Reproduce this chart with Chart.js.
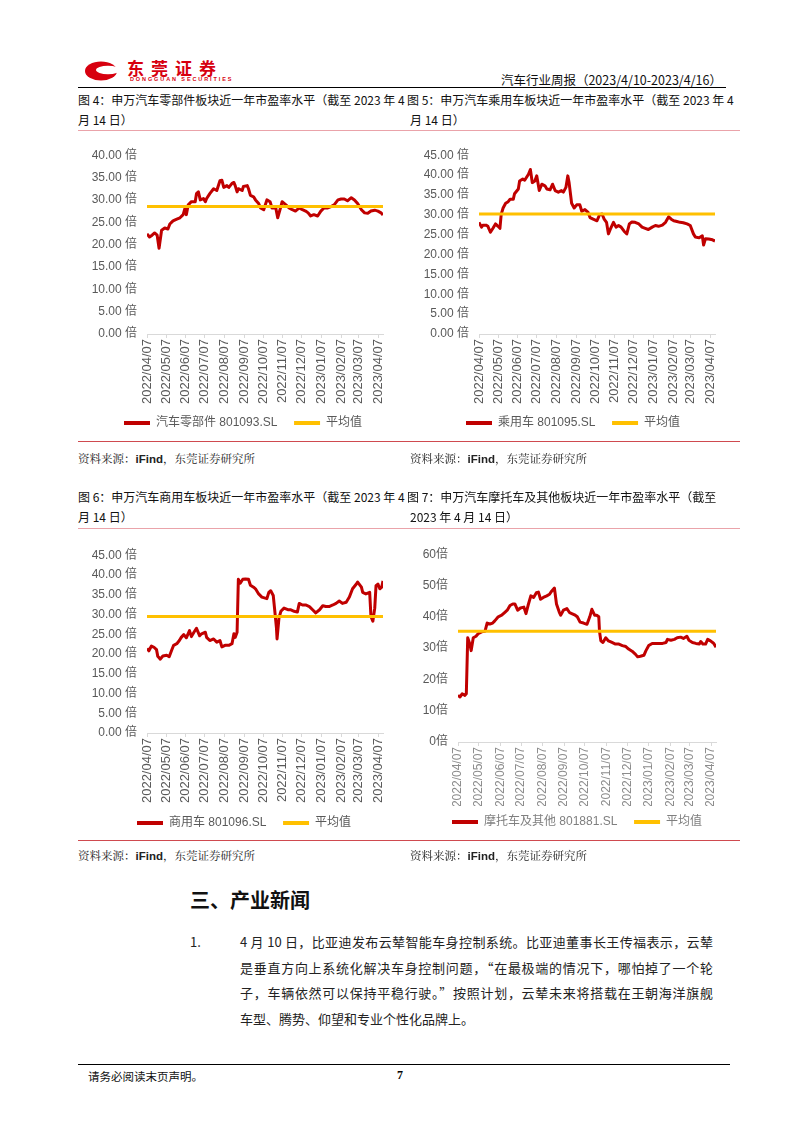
<!DOCTYPE html>
<html><head><meta charset="utf-8">
<script src="https://cdn.jsdelivr.net/npm/chart.js@4.4.0/dist/chart.umd.min.js"></script>
<style>
html,body{margin:0;padding:0;background:#fff}
#page{position:relative;width:802px;height:1133px;overflow:hidden;font-family:'Noto Sans CJK SC',sans-serif;color:#000}
.t{position:absolute;white-space:nowrap}
.ln{position:absolute;height:0}
canvas{position:absolute}
.title{font-size:12px;line-height:16px;color:#111}
.src{font-size:11.5px;line-height:16px;color:#222;font-family:'Noto Serif CJK SC','Noto Sans CJK SC',serif}
.src b{font-family:'Liberation Sans',Arial,sans-serif;font-weight:bold}
.para{font-size:13px;line-height:18px;color:#222;width:473px;font-family:'Noto Sans CJK SC',sans-serif}
.just{text-align:justify;text-align-last:justify}
</style></head>
<body><div id="page">
<!-- header logo -->
<svg class="t" style="left:84px;top:60px" width="36" height="22" viewBox="0 0 36 22">
  <ellipse cx="17" cy="11" rx="16" ry="9.5" fill="#d7000f"/>
  <ellipse cx="24" cy="10" rx="12" ry="4.2" fill="#fff"/>
</svg>
<div class="t" style="left:127px;top:58px;font-size:17px;line-height:20px;font-weight:bold;color:#d7000f;letter-spacing:7px">东莞证券</div>
<div class="t" style="left:130px;top:76px;font-size:5.5px;line-height:6px;font-weight:bold;color:#d7000f;letter-spacing:1.9px;font-family:'Liberation Sans',Arial,sans-serif">DONGGUAN SECURITIES</div>
<div class="t" style="right:80px;top:72px;font-size:12.5px;line-height:16px;color:#111">汽车行业周报（2023/4/10-2023/4/16）</div>
<div class="ln" style="left:78px;top:87px;width:648px;border-top:1.5px solid #000"></div>

<!-- titles row 1 -->
<div class="t title" style="left:78px;top:92px">图 4：申万汽车零部件板块近一年市盈率水平（截至 2023 年 4</div>
<div class="t title" style="left:78px;top:112px">月 14 日）</div>
<div class="t title" style="left:407px;top:92px">图 5：申万汽车乘用车板块近一年市盈率水平（截至 2023 年 4</div>
<div class="t title" style="left:410px;top:112px">月 14 日）</div>
<div class="ln" style="left:78px;top:130px;width:662px;border-top:1px solid #eaa3aa"></div>

<canvas id="c4" width="340" height="301" style="left:75px;top:138px"></canvas>
<canvas id="c5" width="340" height="301" style="left:405px;top:138px"></canvas>

<div class="ln" style="left:78px;top:441px;width:662px;border-top:1px solid #cf4a4f"></div>
<div class="t src" style="left:78px;top:450px">资料来源：<b>iFind</b>，东莞证券研究所</div>
<div class="t src" style="left:410px;top:450px">资料来源：<b>iFind</b>，东莞证券研究所</div>

<!-- titles row 2 -->
<div class="t title" style="left:78px;top:489px">图 6：申万汽车商用车板块近一年市盈率水平（截至 2023 年 4</div>
<div class="t title" style="left:78px;top:509px">月 14 日）</div>
<div class="t title" style="left:407px;top:489px">图 7：申万汽车摩托车及其他板块近一年市盈率水平（截至</div>
<div class="t title" style="left:410px;top:509px">2023 年 4 月 14 日）</div>
<div class="ln" style="left:78px;top:528px;width:662px;border-top:1px solid #eaa3aa"></div>

<canvas id="c6" width="340" height="301" style="left:75px;top:538px"></canvas>
<canvas id="c7" width="340" height="301" style="left:405px;top:537px"></canvas>

<div class="ln" style="left:78px;top:840px;width:662px;border-top:1px solid #cf4a4f"></div>
<div class="t src" style="left:78px;top:847px">资料来源：<b>iFind</b>，东莞证券研究所</div>
<div class="t src" style="left:410px;top:847px">资料来源：<b>iFind</b>，东莞证券研究所</div>

<!-- news -->
<div class="t" style="left:190px;top:887px;font-size:20px;line-height:26px;font-weight:bold;color:#111">三、产业新闻</div>
<div class="t para" style="left:190px;top:933px;width:30px">1.</div>
<div class="t para just" style="left:240px;top:933px">4 月 10 日，比亚迪发布云辇智能车身控制系统。比亚迪董事长王传福表示，云辇</div>
<div class="t para just" style="left:240px;top:959px">是垂直方向上系统化解决车身控制问题，“在最极端的情况下，哪怕掉了一个轮</div>
<div class="t para just" style="left:240px;top:984px">子，车辆依然可以保持平稳行驶。”按照计划，云辇未来将搭载在王朝海洋旗舰</div>
<div class="t para" style="left:240px;top:1010px">车型、腾势、仰望和专业个性化品牌上。</div>

<!-- footer -->
<div class="ln" style="left:78px;top:1064px;width:652px;border-top:1.5px solid #000"></div>
<div class="t" style="left:88px;top:1068px;font-size:11.5px;line-height:16px;color:#111">请务必阅读末页声明。</div>
<div class="t" style="left:397px;top:1067px;font-size:12px;line-height:16px;font-weight:bold;font-family:'Liberation Serif',serif">7</div>
</div>

<script>
// ---------- data ----------
const tickLabels = ['2022/04/07','2022/05/07','2022/06/07','2022/07/07','2022/08/07','2022/09/07','2022/10/07','2022/11/07','2022/12/07','2023/01/07','2023/02/07','2023/03/07','2023/04/07'];
const startDate = '2022/04/07';
const endDate = '2023/04/14';

// 汽车零部件 801093.SL (days since 2022/04/07)
const partsDays = [0,4,8,12,16,19,23,28,33,36,41,47,52,57,60,62,65,70,76,78,81,84,89,92,94,99,105,110,115,118,121,126,129,134,137,139,142,144,150,152,158,160,163,168,171,176,179,184,189,194,197,203,206,211,213,219,224,229,234,240,245,250,254,258,263,269,274,279,285,290,295,301,306,311,316,322,327,332,338,343,348,353,359,364,369,372];
const partsPE = [22.4,21.7,22.1,22.6,22.1,19.2,23.2,23.7,23.5,24.6,25.3,25.7,26.0,26.7,28.2,26.7,28.9,29.6,29.6,31.4,31.8,30.0,30.3,29.6,30.3,31.4,32.5,32.1,34.3,34.4,32.8,33.2,32.8,33.7,33.9,33.2,31.8,32.5,32.1,33.0,33.2,32.5,31.0,30.7,30.0,29.2,28.2,27.8,30.0,29.6,28.2,28.2,26.0,28.5,29.6,28.9,28.2,27.8,27.5,28.2,27.8,27.5,27.1,26.4,26.7,26.4,27.5,28.2,28.2,28.5,28.9,30.0,30.2,30.2,29.8,30.5,30.0,29.2,27.8,27.1,27.0,27.5,27.7,27.5,27.1,26.6];
const partsMean = 28.5;

// 乘用车 801095.SL
const carDays = [0,4,6,11,14,18,22,26,30,33,35,38,42,46,49,54,56,62,64,69,72,78,81,84,88,91,95,99,104,107,112,116,120,125,130,133,137,140,142,146,150,154,159,162,167,172,175,180,186,190,194,197,201,204,207,212,216,220,224,229,233,237,241,246,252,257,262,267,273,278,283,289,294,299,303,307,312,317,322,328,333,338,341,347,352,354,357,362,368,372];
const carPE = [28.1,26.9,27.4,27.4,27.1,25.6,26.6,27.7,27.1,26.6,30.1,31.7,32.9,33.3,33.9,33.9,35.3,36.5,38.5,39.0,38.7,40.2,41.4,38.1,38.5,39.8,36.1,37.7,37.3,36.5,36.3,37.7,36.1,35.7,36.1,35.7,36.9,39.8,38.1,32.9,31.7,32.5,32.5,30.9,31.3,30.6,29.3,28.9,28.5,30.0,30.2,29.0,28.1,25.2,26.4,28.1,26.9,27.3,26.9,25.8,25.2,27.7,28.2,28.1,27.7,26.9,26.6,26.3,26.9,27.3,27.1,27.4,28.1,29.5,28.9,28.5,28.3,28.1,28.0,27.7,27.3,25.2,24.4,24.2,24.7,22.4,24.0,23.9,23.7,23.4];
const carMean = 30.2;

// 商用车 801096.SL
const truckDays = [0,3,7,11,15,17,21,25,31,35,39,42,47,51,54,58,62,67,70,74,78,83,86,92,94,99,105,110,115,118,123,129,134,137,139,142,144,147,151,155,160,163,168,171,176,181,189,192,195,199,201,204,205,208,211,216,222,226,232,237,240,245,250,256,261,266,272,277,282,287,293,298,303,308,314,319,324,330,332,338,340,345,351,353,356,359,361,364,367,370,372];
const truckPE = [21.4,20.8,22.0,21.7,21.1,19.4,18.7,19.5,19.7,19.3,21.0,22.2,22.6,23.4,24.2,24.9,24.1,25.9,24.4,25.5,26.5,24.6,25.1,25.5,24.2,23.4,23.8,23.0,23.4,21.8,22.2,22.2,22.6,25.1,24.2,25.5,38.9,37.9,38.9,39.0,38.9,37.4,36.9,36.5,35.2,34.4,34.0,35.6,36.0,34.8,31.6,26.7,23.8,29.1,30.8,31.6,31.2,31.2,30.8,30.6,32.8,32.4,32.4,32.0,31.2,30.4,31.2,32.2,32.0,32.0,32.4,32.8,33.4,32.8,33.1,34.4,36.5,37.7,38.2,36.9,35.6,35.2,35.6,29.5,28.3,31.6,37.3,37.7,36.5,36.9,38.5];
const truckMean = 29.5;

// 摩托车及其他 801881.SL
const motoDays = [0,3,6,10,12,14,17,19,22,26,29,34,39,42,46,50,53,58,63,68,71,75,79,82,86,90,95,98,101,105,109,113,116,119,123,128,132,135,139,142,146,148,152,157,161,164,169,172,176,181,186,190,193,197,200,203,204,206,209,213,217,222,227,232,237,242,246,251,256,259,263,268,271,275,280,285,290,295,300,302,307,312,316,321,325,330,333,338,343,348,350,353,357,360,364,367,369,372];
const motoPE = [14.9,14.4,15.4,14.9,15.4,33.3,31.3,29.2,33.3,33.8,34.6,35.2,35.4,38.0,37.7,38.0,38.7,40.0,40.5,41.5,42.1,43.6,44.1,44.1,42.1,42.8,43.1,41.0,43.6,46.7,46.2,47.7,47.9,45.6,46.2,46.7,47.2,48.2,49.2,44.1,41.5,40.5,42.1,42.6,41.3,41.0,40.5,40.0,38.3,38.0,37.6,40.0,42.4,40.5,40.5,40.0,35.4,32.3,31.8,33.3,32.3,31.8,31.3,31.3,30.8,30.5,29.7,29.0,28.0,27.2,27.4,27.7,29.2,30.8,31.5,31.5,31.5,31.5,31.8,32.8,32.5,32.8,33.3,33.5,33.1,33.8,32.5,31.8,31.5,31.3,32.1,31.3,31.3,32.8,32.3,31.8,31.4,30.3];
const motoMean = 35.4;

// ---------- helpers ----------
function dayOf(s){const [y,m,d]=s.split('/').map(Number);const [y0,m0,d0]=startDate.split('/').map(Number);return Math.round((Date.UTC(y,m-1,d)-Date.UTC(y0,m0-1,d0))/864e5);}
const tickDays = tickLabels.map(dayOf);
const lastDay = dayOf(endDate);
const LAT = "'Liberation Sans', Arial, 'Noto Sans CJK SC', sans-serif";

function makeChart(id, o){
  const lineData = o.days.map((d,i)=>({x:d,y:o.vals[i]}));
  const meanData = [{x:o.days[0],y:o.mean},{x:o.days[o.days.length-1],y:o.mean}];
  new Chart(document.getElementById(id), {
    type:'line',
    data:{datasets:[
      {label:o.name,data:lineData,borderColor:'#c00000',backgroundColor:'#c00000',borderWidth:3,pointRadius:0,tension:0,order:1,borderJoinStyle:'round'},
      {label:'平均值',data:meanData,borderColor:'#ffc000',backgroundColor:'#ffc000',borderWidth:3,pointRadius:0,order:0}
    ]},
    options:{
      responsive:false,animation:false,devicePixelRatio:1,
      layout:{padding:{left:0,right:o.padRight,top:o.padTop,bottom:0}},
      scales:{
        x:{type:'linear',min:0,max:lastDay,
           afterBuildTicks:s=>{s.ticks=tickDays.map(v=>({value:v}));},
           afterFit:s=>{s.height=o.xh;},
           grid:{display:true,drawOnChartArea:false,drawTicks:true,tickLength:4,color:'#d9d9d9'},
           border:{display:true,color:'#d9d9d9',width:1},
           ticks:{autoSkip:false,minRotation:90,maxRotation:90,padding:1,color:o.xColor,
                  font:{family:LAT,size:o.xFont},
                  callback:(v,i)=>tickLabels[i]}},
        y:{min:0,max:o.ymax,
           afterFit:s=>{s.width=o.yw;},
           grid:{display:false,drawTicks:false},border:{display:false},
           ticks:{stepSize:o.step,padding:10,color:'#595959',font:{family:LAT,size:12},callback:o.fmt}}
      },
      plugins:{
        tooltip:{enabled:false},
        legend:{position:'bottom',align:'start',
          labels:{usePointStyle:true,pointStyle:'line',pointStyleWidth:26,padding:10,color:o.legColor,
            font:{family:LAT,size:12},
            sort:(a,b)=>a.datasetIndex-b.datasetIndex,
            generateLabels:(chart)=>Chart.defaults.plugins.legend.labels.generateLabels(chart).map(l=>Object.assign(l,{lineWidth:4,text:l.datasetIndex===0?l.text+'\u00a0\u00a0':l.text}))}}
      }
    },
    plugins:[{id:'legendPlace',afterLayout(chart){ if(chart.legend){ chart.legend.left = o.legLeft; } }}]
  });
}

const fmt2 = v => v.toFixed(2) + ' 倍';
const fmt0 = v => v + '倍';

makeChart('c4',{name:'汽车零部件 801093.SL',days:partsDays,vals:partsPE,mean:partsMean,ymax:40,step:5,fmt:fmt2,
  padRight:32,padTop:10,yw:72,xh:73,legLeft:39,xColor:'#595959',xFont:13,legColor:'#595959'});
makeChart('c5',{name:'乘用车 801095.SL',days:carDays,vals:carPE,mean:carMean,ymax:45,step:5,fmt:fmt2,
  padRight:30,padTop:10,yw:74,xh:73,legLeft:51,xColor:'#595959',xFont:13,legColor:'#595959'});
makeChart('c6',{name:'商用车 801096.SL',days:truckDays,vals:truckPE,mean:truckMean,ymax:45,step:5,fmt:fmt2,
  padRight:32,padTop:10,yw:72,xh:74,legLeft:52,xColor:'#595959',xFont:13,legColor:'#595959'});
makeChart('c7',{name:'摩托车及其他 801881.SL',days:motoDays,vals:motoPE,mean:motoMean,ymax:60,step:10,fmt:fmt0,
  padRight:29,padTop:10,yw:53,xh:64,legLeft:37,xColor:'#8c8c8c',xFont:12,legColor:'#7f7f7f'});
</script>
</body></html>
